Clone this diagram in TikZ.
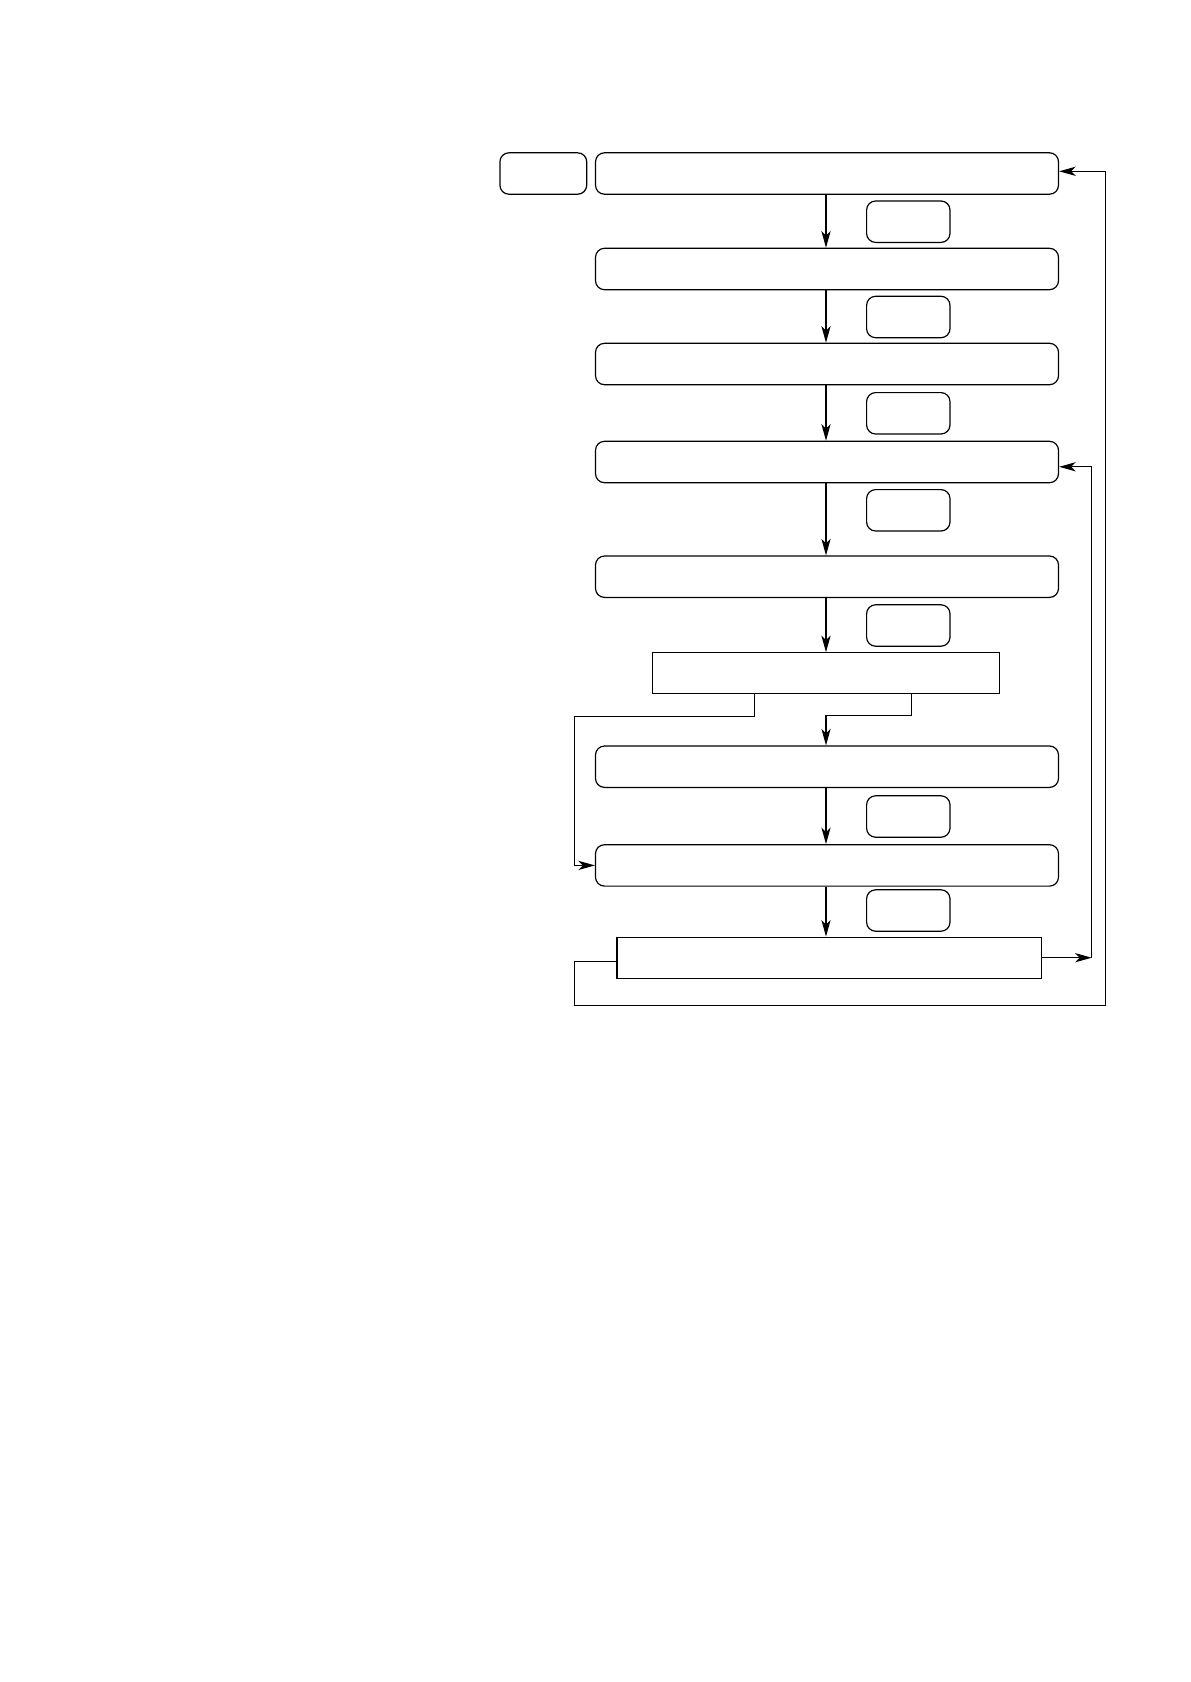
\documentclass[tikz,border=0pt]{standalone}
\usetikzlibrary{arrows.meta}
\begin{document}
\begin{tikzpicture}[x=0.5pt, y=-0.5pt, line width=0.6pt,
    >={Stealth[length=8.3pt, width=4.6pt, inset=2.3pt]},
    rbox/.style={draw, rounded corners=4.5pt, inner sep=0pt, minimum height=20.7pt},
    stage/.style={rbox, minimum width=231.5pt},
    side/.style={rbox, minimum width=41.7pt},
    plain/.style={draw, inner sep=0pt, minimum height=20.5pt}]
    \useasboundingbox (0, 0) rectangle (1190, 1682) ;
    \node[rbox, minimum width=43.4pt] (start) at (543.3, 173.5) {} ;
    \node[stage] (b1) at (827, 173.5) {} ;
    \node[stage] (b2) at (827, 269) {} ;
    \node[stage] (b3) at (827, 364) {} ;
    \node[stage] (b4) at (827, 462) {} ;
    \node[stage] (b5) at (827, 576.7) {} ;
    \node[plain, minimum width=173.4pt] (b6) at (825.7, 673.3) {} ;
    \node[stage] (b7) at (827, 766.7) {} ;
    \node[stage] (b8) at (827, 865.4) {} ;
    \node[plain, minimum width=212.4pt] (b9) at (829.4, 957.7) {} ;
    \foreach \name/\y in {s1/221.7, s2/317, s3/413.3, s4/510.3, s5/625.5, s7/816.5, s8/910.5}
      \node[side] (\name) at (908.3, \y) {} ;
    \coordinate (ax) at (826, 0) ;
    \foreach \a/\b in {b1/b2, b2/b3, b3/b4, b4/b5, b5/b6, b7/b8, b8/b9}
      \draw[->] (\a.south -| ax) -- (\b.north -| ax) ;
    \coordinate (splitl) at (754.3, 0) ;
    \coordinate (splitr) at (911.7, 0) ;
    \coordinate (turnl) at (574.3, 716.3) ;
    \coordinate (turnb) at (574.3, 1005.7) ;
    \coordinate (turnr) at (1105.7, 1005.7) ;
    \coordinate (back) at (1091.7, 957.7) ;
    \draw[->] (b6.south -| splitr) -- ++(0, 20.8) -| (b7.north -| ax) ;
    \draw[->] (b6.south -| splitl) |- (turnl) |- (b8.west) ;
    \draw[->] ([yshift=-1.7pt]b9.west) -| (turnb) -- (turnr) |- ([yshift=1.1pt]b1.east) ;
    \draw[->] (b9.east) -- (back) ;
    \draw[->] (back) |- ([yshift=-2.4pt]b4.east) ;
  \end{tikzpicture}
\end{document}
